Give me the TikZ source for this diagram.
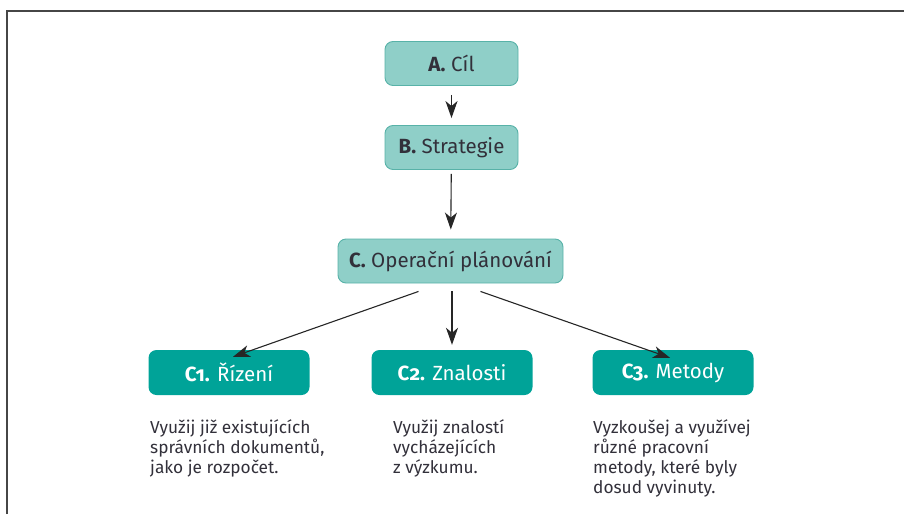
\documentclass[tikz,border=0pt]{standalone}
\usepackage{fontspec}
\setmainfont{Fira Sans}[Numbers=OldStyle]
\usetikzlibrary{arrows.meta}
\definecolor{lightteal}{RGB}{143,207,200}
\definecolor{lightedge}{RGB}{88,178,168}
\definecolor{darkteal}{RGB}{0,163,152}
\definecolor{txt}{RGB}{50,48,58}
\definecolor{framec}{RGB}{70,70,70}
\tikzset{
  lightbox/.style={draw=lightedge, line width=0.9pt, fill=lightteal, rounded corners=8pt,
    minimum height=44pt, inner sep=0pt, text=txt, font=\fontsize{20.5}{24}\selectfont},
  darkbox/.style={fill=darkteal, rounded corners=8pt, minimum width=161pt,
    minimum height=45pt, inner sep=0pt, text=white, font=\fontsize{20.5}{24}\selectfont},
  desc/.style={anchor=base west, align=left, inner sep=0pt, text=txt,
    font=\fontsize{17.3}{20}\selectfont},
  arr/.style={draw=black!85, line width=1.1pt, -{Stealth[length=17pt,width=12pt,inset=5pt]}}
}
\begin{document}
\begin{tikzpicture}[x=1pt,y=-1pt]
\useasboundingbox (0,0) rectangle (904,514);
\draw[framec, line width=1.8pt] (7,514) -- (7,11) -- (904,11);

\node[lightbox, minimum width=133pt] (A) at (451.5,63.5) {\textbf{A.} Cíl};
\node[lightbox, minimum width=133pt] (B) at (451.5,147.5) {\textbf{B.} Strategie};
\node[lightbox, minimum width=225pt] (C) at (450.5,261) {\textbf{C.} Operační plánování};

\node[darkbox] (C1) at (229,372.5) {\textbf{C1.} Řízení};
\node[darkbox] (C2) at (452,372.5) {\textbf{C2.} Znalosti};
\node[darkbox] (C3) at (673,372.5) {\textbf{C3.} Metody};

\node[desc] (T1) at (150,473) {Využij již existujících\\správních dokumentů,\\jako je rozpočet.};
\node[desc] (T2) at (393,473) {Využij znalostí\\vycházejících\\z výzkumu.};
\node[desc] (T3) at (593,493) {Vyzkoušej a využívej\\různé pracovní\\metody, které byly\\dosud vyvinuty.};

\draw[arr, shorten <=9pt, shorten >=7pt] (A) -- (B);
\draw[arr, shorten <=4pt, shorten >=9pt] (B) -- (C);
\draw[arr] ([xshift=-32pt,yshift=-8pt]C.south) -- ([xshift=4pt,yshift=-7pt]C1.north);
\draw[arr, shorten <=8pt, shorten >=5pt] (C.south -| C2.north) -- (C2.north);
\draw[arr] ([xshift=30pt,yshift=-8pt]C.south) -- ([xshift=-3pt,yshift=-8pt]C3.north);
\end{tikzpicture}
\end{document}
